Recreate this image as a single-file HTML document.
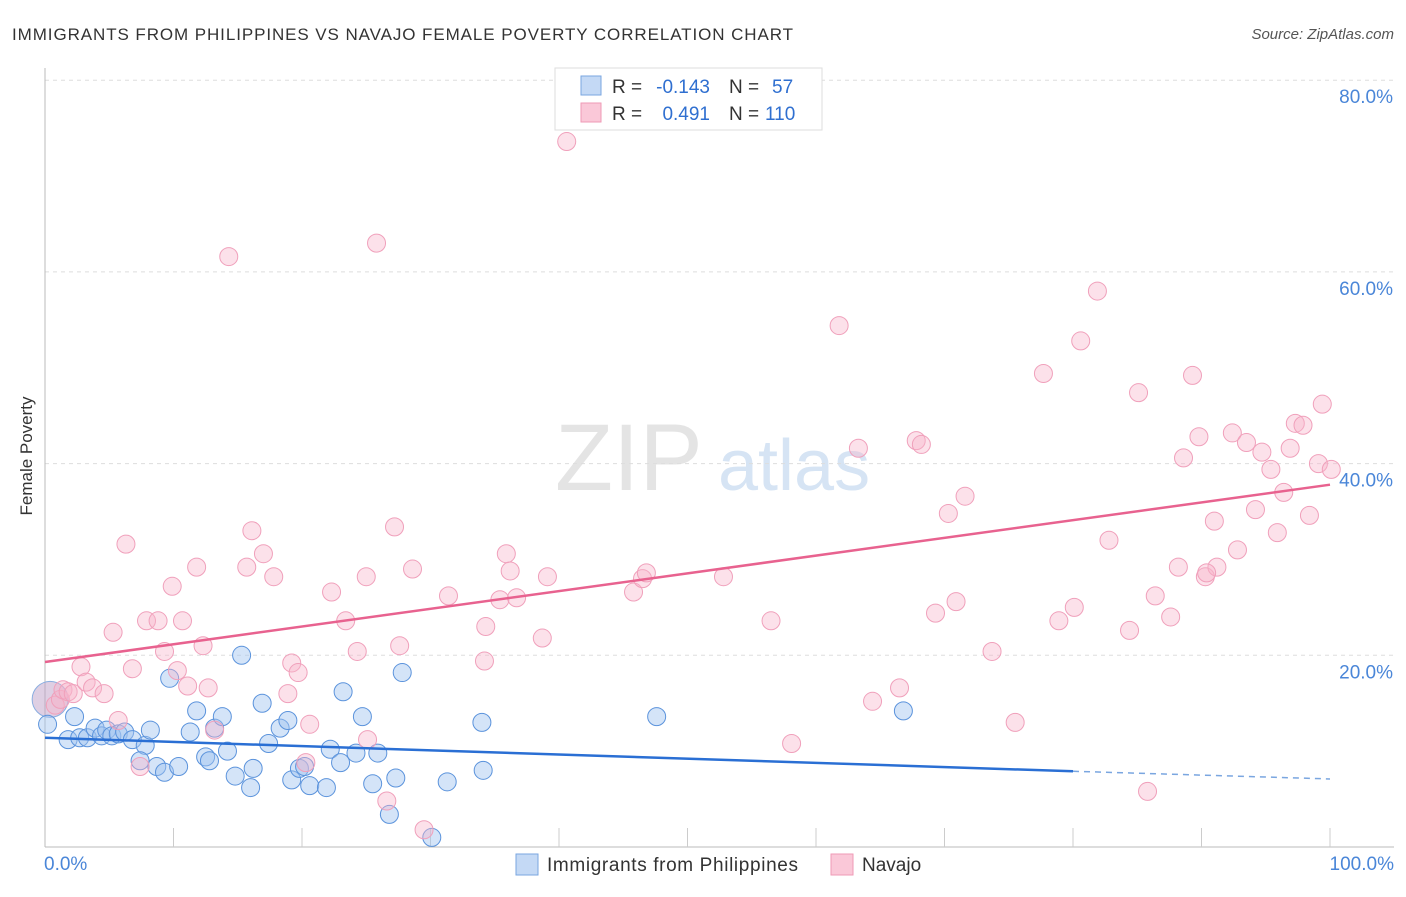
<!DOCTYPE html>
<html><head><meta charset="utf-8"><style>
body{margin:0;background:#fff;font-family:"Liberation Sans",sans-serif;}
svg text{font-family:"Liberation Sans",sans-serif;}
</style></head><body>
<svg id="chart" width="1406" height="892" xmlns="http://www.w3.org/2000/svg">
<text x="12" y="40" font-size="17" fill="#333" textLength="781" lengthAdjust="spacing">IMMIGRANTS FROM PHILIPPINES VS NAVAJO FEMALE POVERTY CORRELATION CHART</text>
<text x="1394" y="39" font-size="15" fill="#555" font-style="italic" text-anchor="end">Source: ZipAtlas.com</text>
<text x="32" y="456" font-size="17" fill="#333" transform="rotate(-90 32 456)" text-anchor="middle">Female Poverty</text>
<g><text x="555" y="490" font-size="95" font-family="Liberation Serif" fill="#e4e4e4">ZIP</text><text x="718" y="490" font-size="72" fill="#d6e4f4">atlas</text></g>
<g id="grid"></g>
<g id="axes"></g>
<g id="blue"></g>
<g id="pink"></g>
<g id="trends"></g>
<g>
<rect x="555" y="68" width="267" height="62" fill="#fff" stroke="#ddd"/>
<rect x="581" y="76" width="20" height="19" fill="#c4d9f5" stroke="#7aa6e0"/>
<rect x="581" y="103" width="20" height="19" fill="#fac8d8" stroke="#ef9ab6"/>
<text x="612" y="93" font-size="19" fill="#333">R =</text>
<text x="710" y="93" font-size="19" fill="#2f6fd0" text-anchor="end">-0.143</text>
<text x="729" y="93" font-size="19" fill="#333">N =</text>
<text x="772" y="93" font-size="19" fill="#2f6fd0">57</text>
<text x="612" y="120" font-size="19" fill="#333">R =</text>
<text x="710" y="120" font-size="19" fill="#2f6fd0" text-anchor="end">0.491</text>
<text x="729" y="120" font-size="19" fill="#333">N =</text>
<text x="765" y="120" font-size="19" fill="#2f6fd0">110</text>
</g>
<g>
<rect x="516" y="854" width="22" height="21" fill="#c4d9f5" stroke="#7aa6e0"/>
<text x="547" y="871" font-size="19" fill="#333" textLength="251" lengthAdjust="spacing">Immigrants from Philippines</text>
<rect x="831" y="854" width="22" height="21" fill="#fac8d8" stroke="#ef9ab6"/>
<text x="862" y="871" font-size="19" fill="#333">Navajo</text>
</g>
</svg>
<script>
const xTicks=[0,10,20,30,40,50,60,70,80,90,100];
const yTicks=[20,40,60,80];
const yTickLabels=["20.0%","40.0%","60.0%","80.0%"];
const blueX=[0.2,2.3,1.8,2.7,3.3,3.9,4.4,4.8,5.2,5.7,6.2,6.8,7.8,7.4,8.2,8.7,9.3,10.4,9.7,11.3,11.8,12.5,12.8,13.2,13.8,14.2,14.8,15.3,16.0,16.2,16.9,17.4,18.3,18.9,19.2,19.8,20.2,20.6,21.9,22.2,23.0,23.2,24.7,24.2,25.5,25.9,26.8,27.3,27.8,30.1,31.3,34.0,34.1,47.6,66.8];
const blueY=[12.8,13.6,11.2,11.4,11.4,12.4,11.6,12.2,11.6,11.8,12.0,11.2,10.6,9.0,12.2,8.4,7.8,8.4,17.6,12.0,14.2,9.4,9.0,12.4,13.6,10.0,7.4,20.0,6.2,8.2,15.0,10.8,12.4,13.2,7.0,8.2,8.4,6.4,6.2,10.2,8.8,16.2,13.6,9.8,6.6,9.8,3.4,7.2,18.2,1.0,6.8,13.0,8.0,13.6,14.2];
const pinkX=[0.8,1.2,1.4,1.8,2.2,2.8,3.2,3.7,4.6,5.3,5.7,6.3,6.8,7.4,7.9,8.8,9.3,9.9,10.3,10.7,11.1,11.8,12.3,12.7,13.2,14.3,15.7,16.1,17.0,17.8,18.9,19.2,19.7,20.6,20.3,22.3,23.4,24.3,25.0,25.1,25.8,26.6,27.2,27.6,28.6,29.5,31.4,34.2,34.3,35.4,35.9,36.2,36.7,38.7,39.1,40.6,45.8,46.5,46.8,52.8,56.5,58.1,61.8,63.3,64.4,66.5,67.8,68.2,69.3,70.3,70.9,71.6,73.7,75.5,77.7,78.9,80.1,80.6,81.9,82.8,84.4,85.1,85.8,86.4,87.6,88.2,88.6,89.3,89.8,90.3,91.0,91.2,92.4,92.8,93.5,94.2,94.7,95.4,95.9,96.4,96.9,97.3,97.9,98.4,99.1,99.4,100.1,90.4];
const pinkY=[14.8,15.4,16.4,16.2,16.0,18.8,17.2,16.6,16.0,22.4,13.2,31.6,18.6,8.4,23.6,23.6,20.4,27.2,18.4,23.6,16.8,29.2,21.0,16.6,12.2,61.6,29.2,33.0,30.6,28.2,16.0,19.2,18.2,12.8,8.8,26.6,23.6,20.4,28.2,11.2,63.0,4.8,33.4,21.0,29.0,1.8,26.2,19.4,23.0,25.8,30.6,28.8,26.0,21.8,28.2,73.6,26.6,28.0,28.6,28.2,23.6,10.8,54.4,41.6,15.2,16.6,42.4,42.0,24.4,34.8,25.6,36.6,20.4,13.0,49.4,23.6,25.0,52.8,58.0,32.0,22.6,47.4,5.8,26.2,24.0,29.2,40.6,49.2,42.8,28.2,34.0,29.2,43.2,31.0,42.2,35.2,41.2,39.4,32.8,37.0,41.6,44.2,44.0,34.6,40.0,46.2,39.4,28.6];
const blueTrend=[[0,11.4],[80,7.9],[100,7.1]];
const pinkTrend=[[0,19.3],[100,37.8]];
const X=v=>45+v*12.85, Y=v=>847-v*9.585;
const NS="http://www.w3.org/2000/svg";
function mk(tag,attrs,parent){const e=document.createElementNS(NS,tag);for(const k in attrs)e.setAttribute(k,attrs[k]);parent.appendChild(e);return e;}
const grid=document.getElementById('grid'),axes=document.getElementById('axes');
yTicks.forEach((t,i)=>{
 const l=mk('line',{x1:45,x2:1394,y1:Y(t),y2:Y(t),stroke:'#ddd','stroke-dasharray':'4,4'},grid);
 
 
 const tx=mk('text',{x:1393,y:Y(t)+23,'font-size':19,fill:'#4a86d8','text-anchor':'end'},axes);
 tx.textContent=yTickLabels[i];
 
 
});
const ax=mk('line',{x1:45,x2:45,y1:68,y2:847,stroke:'#bbb'},axes);


const bx=mk('line',{x1:45,x2:1394,y1:847,y2:847,stroke:'#bbb'},axes);


xTicks.slice(1).forEach(t=>{
 const l=mk('line',{x1:X(t),x2:X(t),y1:828,y2:847,stroke:'#ccc'},axes);
 
 
});
const xl0=mk('text',{x:44,y:870,'font-size':19,fill:'#4a86d8'},axes);xl0.textContent='0.0%';


const xl1=mk('text',{x:1394,y:870,'font-size':19,fill:'#4a86d8','text-anchor':'end'},axes);xl1.textContent='100.0%';


const bg=document.getElementById('blue'),pg=document.getElementById('pink');
const big=mk('circle',{cx:X(0.4),cy:Y(15.4),r:18,fill:'rgba(190,160,200,0.5)',stroke:'#8aaee0'},bg);


blueX.forEach((v,i)=>{
 const c=mk('circle',{cx:X(v),cy:Y(blueY[i]),r:9,fill:'rgba(160,196,240,0.45)',stroke:'#5b93dc','stroke-width':1},bg);
 
 
});
pinkX.forEach((v,i)=>{
 const c=mk('circle',{cx:X(v),cy:Y(pinkY[i]),r:9,fill:'rgba(248,180,202,0.4)',stroke:'#f0a0bb','stroke-width':1},pg);
 
 
});
const tg=document.getElementById('trends');
const b1=mk('line',{x1:X(blueTrend[0][0]),y1:Y(blueTrend[0][1]),x2:X(blueTrend[1][0]),y2:Y(blueTrend[1][1]),stroke:'#2a6fd4','stroke-width':2.5},tg);


const b2=mk('line',{x1:X(blueTrend[1][0]),y1:Y(blueTrend[1][1]),x2:X(blueTrend[2][0]),y2:Y(blueTrend[2][1]),stroke:'#7aa6e0','stroke-width':1.5,'stroke-dasharray':'6,5'},tg);


const p1=mk('line',{x1:X(pinkTrend[0][0]),y1:Y(pinkTrend[0][1]),x2:X(pinkTrend[1][0]),y2:Y(pinkTrend[1][1]),stroke:'#e8628f','stroke-width':2.5},tg);


</script>
</body></html>
